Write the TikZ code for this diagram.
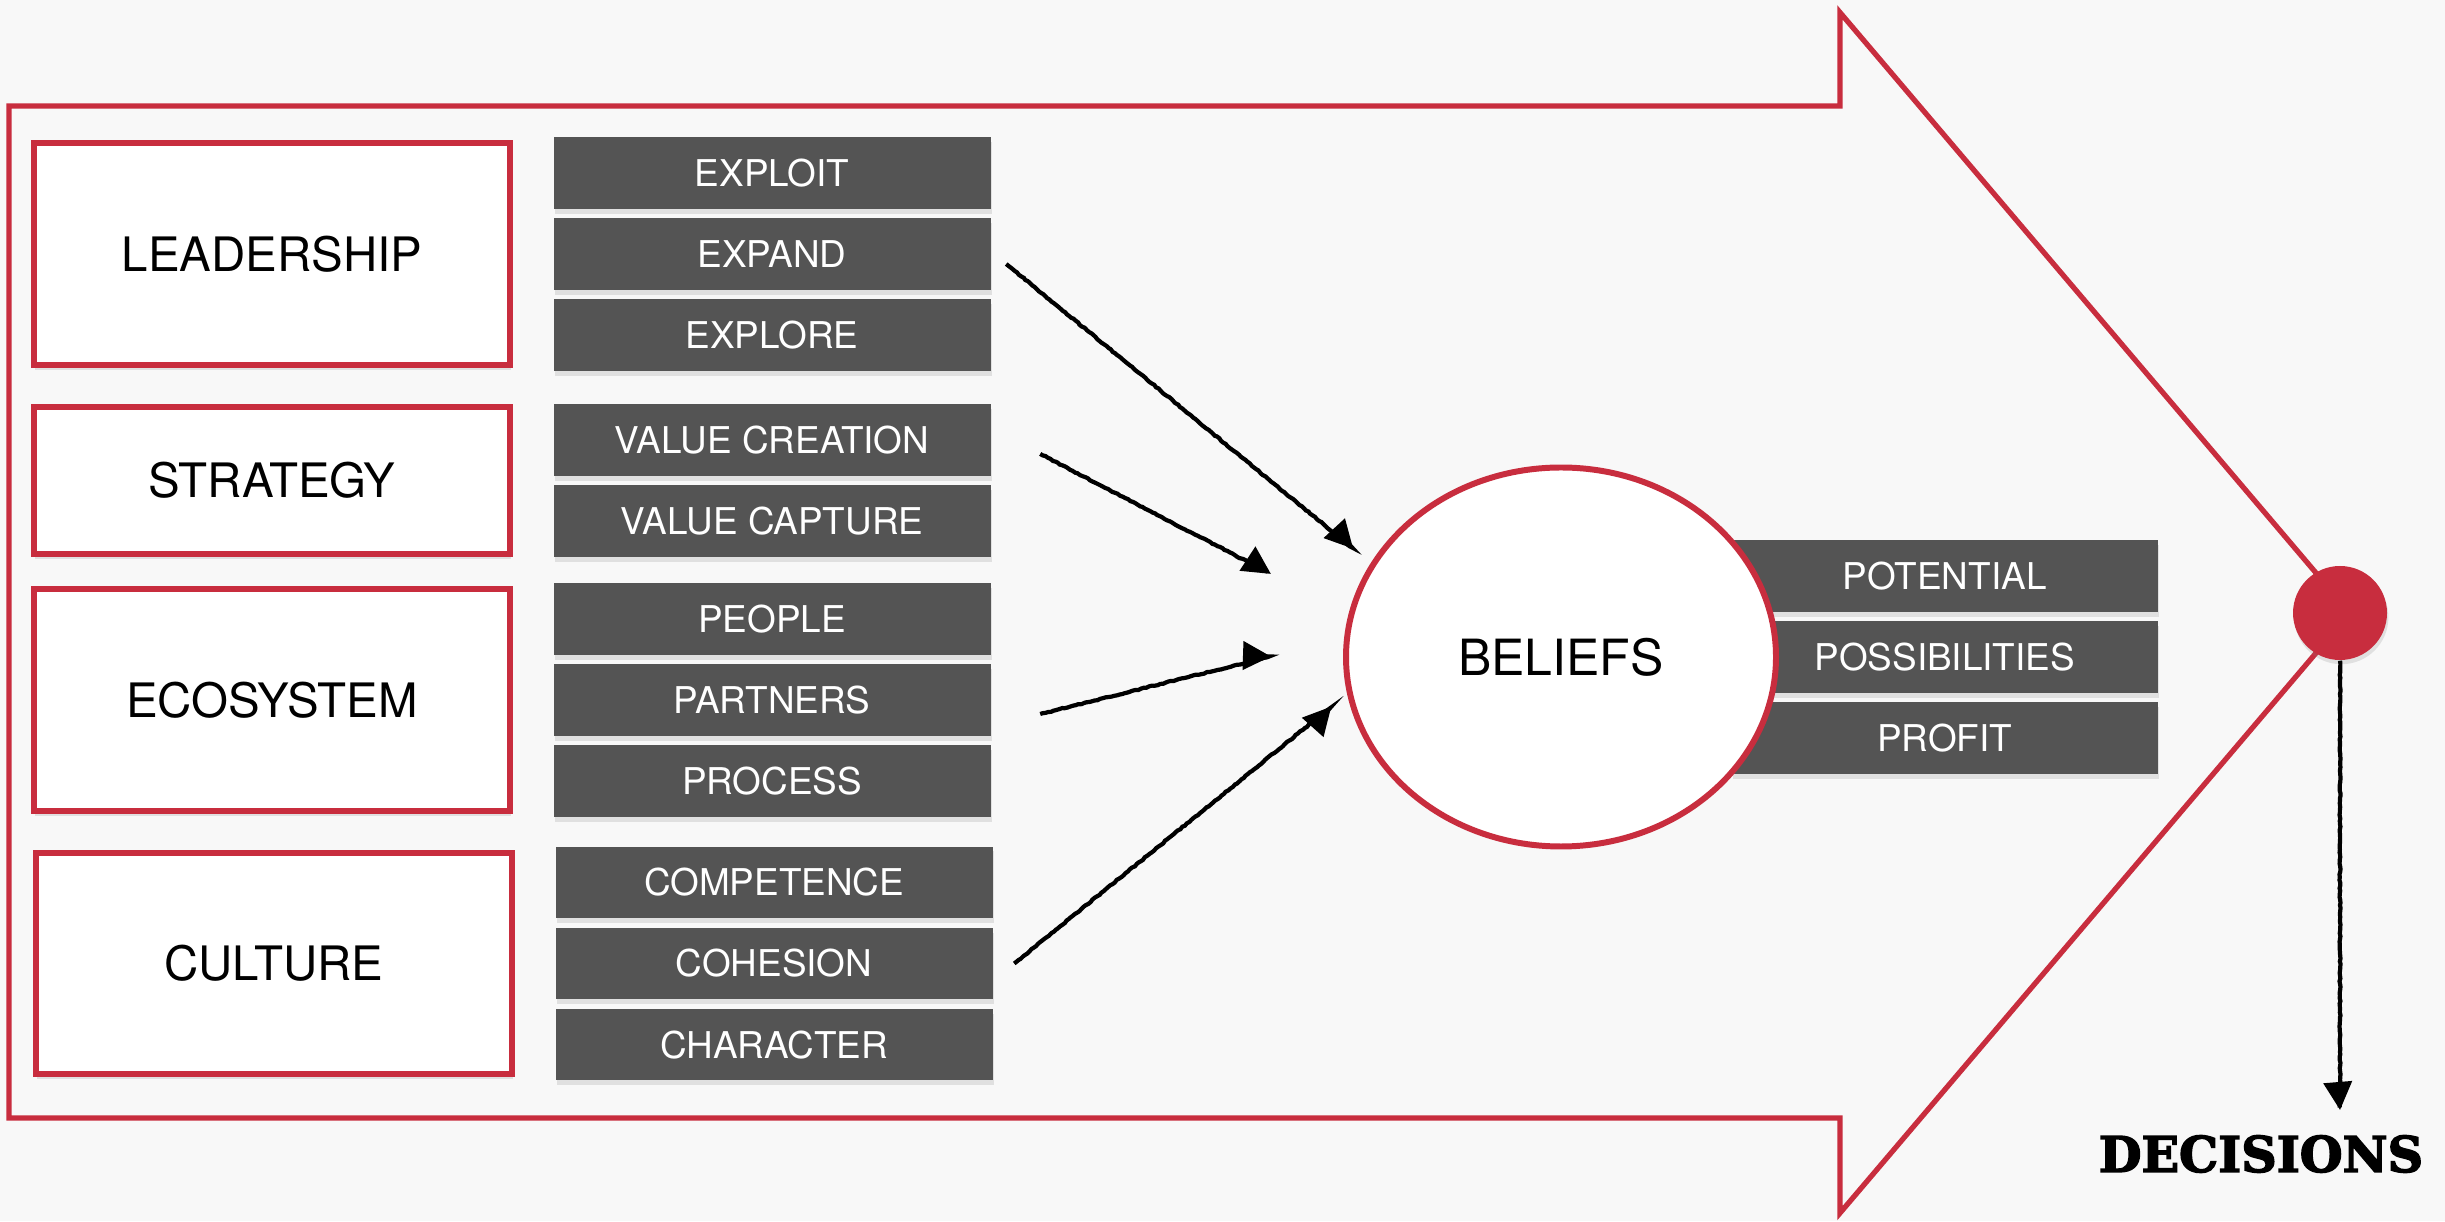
\documentclass[tikz,border=0pt]{standalone}
\usepackage{fontspec}
\setmainfont{TeX Gyre Heros}
\newfontfamily\slabfont{DejaVu Serif Bold}[FakeBold=3]
\usetikzlibrary{positioning, shapes.geometric, arrows.meta, shadows, decorations.pathmorphing}
\definecolor{myred}{RGB}{200,45,62}
\definecolor{mygray}{RGB}{84,84,84}
\definecolor{mybg}{RGB}{248,248,248}
\tikzset{
  pillar/.style={draw=myred, line width=1.6pt, fill=white, minimum width=4.76cm,
    inner sep=0, font=\fontsize{13.5}{16}\selectfont,
    drop shadow={opacity=0.2, shadow xshift=0.4pt, shadow yshift=-1.4pt}},
  item/.style={fill=mygray, text=white, minimum width=4.37cm, minimum height=0.717cm,
    inner sep=0, font=\fontsize{10.5}{12}\selectfont,
    drop shadow={opacity=0.2, shadow xshift=0.4pt, shadow yshift=-1.4pt}},
  belief/.style={ellipse, draw=myred, line width=1.7pt, fill=white, inner sep=0,
    minimum width=4.30cm, minimum height=3.79cm, font=\fontsize{14.2}{17}\selectfont},
  reddot/.style={circle, fill=myred, minimum size=0.94cm, inner sep=0,
    drop shadow={opacity=0.2, shadow xshift=0.4pt, shadow yshift=-1.2pt}},
  push/.style={->, line width=1.2pt, decorate,
    decoration={random steps, segment length=0.8pt, amplitude=0.15pt}}
}

\begin{document}
\begin{tikzpicture}[>={Triangle[length=2.8mm,width=2.8mm]}]

\fill[mybg] (0,0) rectangle (24.45,12.21);
\useasboundingbox (0,0) rectangle (24.45,12.21);

% big arrow
\draw[myred, line width=1.5pt] (0.09,11.15) -- (18.40,11.15) -- (18.40,12.085)
  -- (23.50,6.08) -- (18.40,0.08) -- (18.40,1.03) -- (0.09,1.03) -- cycle;

% pillars
\node [pillar, minimum height=2.22cm] (lead) at (2.72,9.67) {LEADERSHIP};
\node [pillar, minimum height=1.47cm] (strat) at (2.72,7.405) {STRATEGY};
\node [pillar, minimum height=2.22cm] (eco) at (2.72,5.21) {ECOSYSTEM};
\node [pillar, minimum height=2.21cm] (cult) at (2.74,2.575) {CULTURE};

\node [item, right=0.40cm of lead] (expand) {EXPAND};
\node [item, above=0.08cm of expand] (exploit) {EXPLOIT};
\node [item, below=0.08cm of expand] (explore) {EXPLORE};

\node [item, anchor=south west] (vcreate) at ([xshift=0.40cm,yshift=0.04cm]strat.east) {VALUE CREATION};
\node [item, below=0.08cm of vcreate] (vcapture) {VALUE CAPTURE};

\node [item, right=0.40cm of eco] (partners) {PARTNERS};
\node [item, above=0.08cm of partners] (people) {PEOPLE};
\node [item, below=0.08cm of partners] (process) {PROCESS};

\node [item, right=0.40cm of cult] (cohesion) {COHESION};
\node [item, above=0.08cm of cohesion] (compet) {COMPETENCE};
\node [item, below=0.08cm of cohesion] (charac) {CHARACTER};

% beliefs and what follows from them
\coordinate (bc) at (15.61,5.64);
\node [item, anchor=west, minimum width=4.26cm] (possib) at ([xshift=1.70cm]bc) {POSSIBILITIES};
\node [item, minimum width=4.26cm, above=0.08cm of possib] (potent) {POTENTIAL};
\node [item, minimum width=4.26cm, below=0.08cm of possib] (profit) {PROFIT};
\node [belief] (belief) at (bc) {BELIEFS};

\coordinate (in1) at (13.535,6.72);
\coordinate (in2) at (12.71,6.47);
\coordinate (in3) at (12.71,5.645);
\coordinate (in4) at (13.32,5.15);
\draw[push] ([shift={(0.15,-0.1)}]expand.east) -- (in1);
\draw[push] ([shift={(0.49,-0.14)}]vcreate.east) -- (in2);
\draw[push] ([shift={(0.49,-0.14)}]partners.east) -- (in3);
\draw[push] ([shift={(0.21,0)}]cohesion.east) -- (in4);

% outcome
\node [reddot] (knot) at (23.40,6.08) {};
\coordinate (dend) at (23.40,1.11);
\draw[push] (knot.south) -- (dend);
\node [font=\slabfont\fontsize{14}{16}\selectfont] (decide) at (22.61,0.67) {DECISIONS};

\end{tikzpicture}
\end{document}
